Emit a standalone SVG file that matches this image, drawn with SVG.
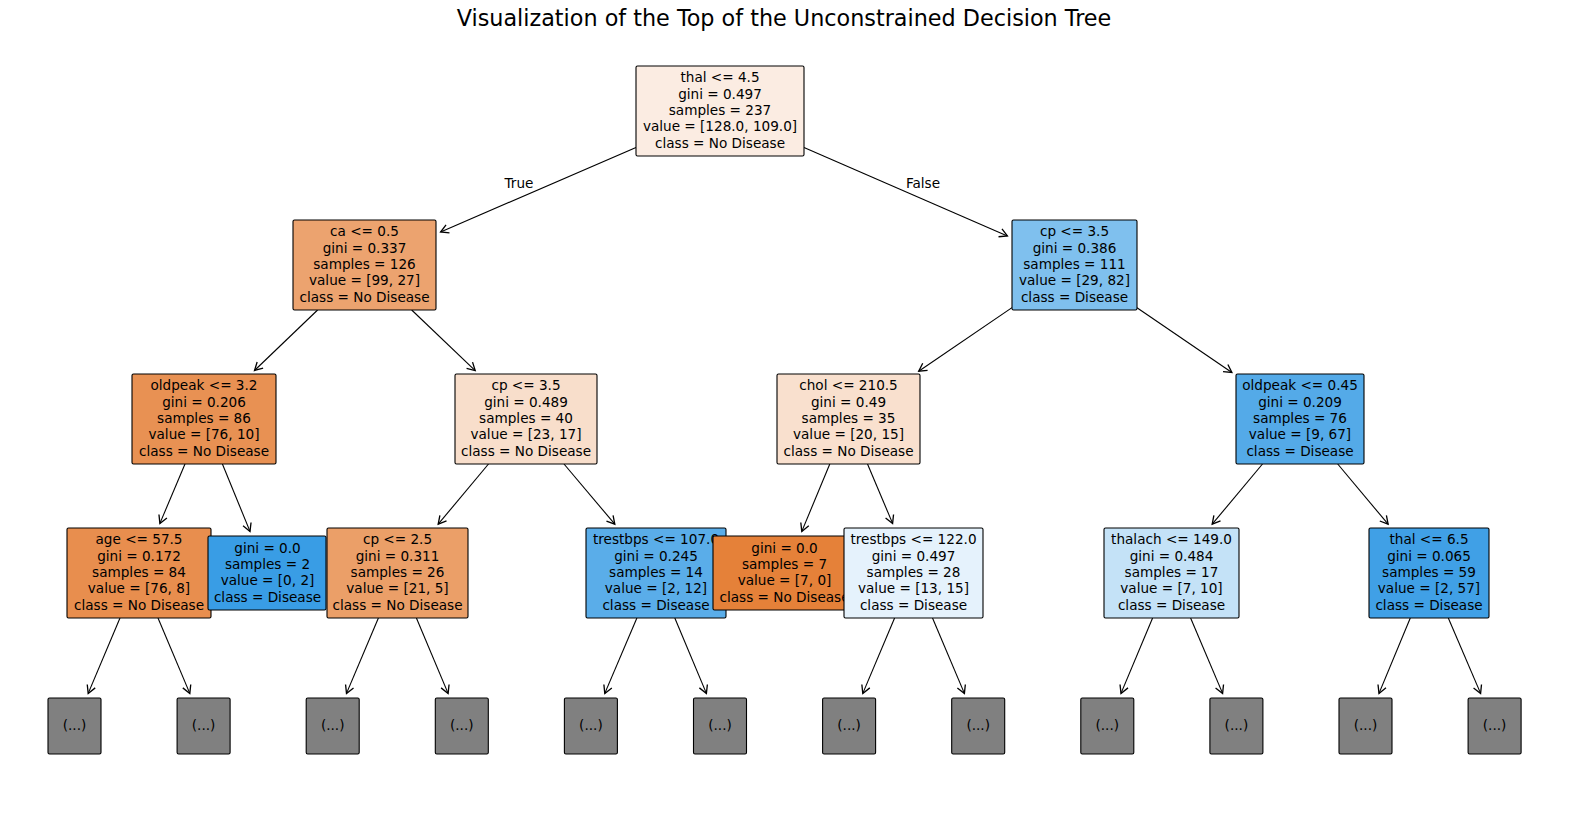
<svg xmlns="http://www.w3.org/2000/svg" width="1570" height="814" viewBox="0 0 1570 814">
<style>
.t{font-family:"DejaVu Sans","Liberation Sans",sans-serif;font-size:13.6px;text-anchor:middle;fill:#000}
.ttl{font-family:"DejaVu Sans","Liberation Sans",sans-serif;font-size:22.3px;text-anchor:middle;fill:#000}
.b{stroke:#000;stroke-width:1.1}
.e{stroke:#000;stroke-width:1.1;fill:none;marker-end:url(#ah)}
.lf{fill:#808080;stroke:#000;stroke-width:1.1}
</style>
<defs>
<marker id="ah" markerUnits="userSpaceOnUse" markerWidth="12" markerHeight="12" refX="0" refY="0" viewBox="-8 -5 10 10" orient="auto" overflow="visible">
<path d="M-6.5,-3.6 L0,0 L-6.5,3.6" fill="none" stroke="#000" stroke-width="1.1"/>
</marker>
</defs>
<rect width="1570" height="814" fill="#fff"/>
<text class="ttl" x="784" y="26">Visualization of the Top of the Unconstrained Decision Tree</text>
<g id="connectors">
<line class="e" x1="636" y1="147.4" x2="440.6" y2="232"/>
<line class="e" x1="804" y1="147.5" x2="1007.4" y2="235.9"/>
<line class="e" x1="317.6" y1="310" x2="254.5" y2="370.5"/>
<line class="e" x1="411.7" y1="310" x2="475.2" y2="370.6"/>
<line class="e" x1="1012" y1="307.6" x2="918.7" y2="371.2"/>
<line class="e" x1="1137" y1="307.7" x2="1231.9" y2="372.5"/>
<line class="e" x1="185" y1="464" x2="159.9" y2="523.4"/>
<line class="e" x1="222.4" y1="464" x2="250" y2="531.4"/>
<line class="e" x1="488.5" y1="464" x2="438.2" y2="524.2"/>
<line class="e" x1="564" y1="464" x2="614.8" y2="524.2"/>
<line class="e" x1="829.8" y1="464" x2="801.8" y2="531.4"/>
<line class="e" x1="867.5" y1="464" x2="892.6" y2="523.4"/>
<line class="e" x1="1262.5" y1="464" x2="1212.2" y2="524.2"/>
<line class="e" x1="1337.7" y1="464" x2="1388.1" y2="524.2"/>
<line class="e" x1="120" y1="618" x2="88.2" y2="693.4"/>
<line class="e" x1="158" y1="618" x2="189.8" y2="693.4"/>
<line class="e" x1="378.4" y1="618" x2="346.5" y2="693.4"/>
<line class="e" x1="416.4" y1="618" x2="448.1" y2="693.4"/>
<line class="e" x1="636.9" y1="618" x2="604.8" y2="693.4"/>
<line class="e" x1="674.8" y1="618" x2="706.4" y2="693.4"/>
<line class="e" x1="894.6" y1="618" x2="862.8" y2="693.4"/>
<line class="e" x1="932.5" y1="618" x2="964.4" y2="693.4"/>
<line class="e" x1="1152.6" y1="618" x2="1121" y2="693.4"/>
<line class="e" x1="1190.6" y1="618" x2="1222.6" y2="693.4"/>
<line class="e" x1="1410.3" y1="618" x2="1379" y2="693.4"/>
<line class="e" x1="1448.3" y1="618" x2="1480.6" y2="693.4"/>
<text class="t" x="519" y="188">True</text>
<text class="t" x="923" y="188">False</text>
</g>
<g id="n_root">
<rect class="b" x="636" y="66" width="168" height="90" rx="1.5" fill="#fbece2"/>
<text class="t" x="720" y="82.3">thal &lt;= 4.5<tspan x="720" dy="16.35">gini = 0.497</tspan><tspan x="720" dy="16.35">samples = 237</tspan><tspan x="720" dy="16.35">value = [128.0, 109.0]</tspan><tspan x="720" dy="16.35">class = No Disease</tspan></text>
</g>
<g id="n_ca">
<rect class="b" x="293" y="220" width="143" height="90" rx="1.5" fill="#eca36f"/>
<text class="t" x="364.5" y="236.3">ca &lt;= 0.5<tspan x="364.5" dy="16.35">gini = 0.337</tspan><tspan x="364.5" dy="16.35">samples = 126</tspan><tspan x="364.5" dy="16.35">value = [99, 27]</tspan><tspan x="364.5" dy="16.35">class = No Disease</tspan></text>
</g>
<g id="n_oldpeak32">
<rect class="b" x="132" y="374" width="144" height="90" rx="1.5" fill="#e89153"/>
<text class="t" x="204" y="390.3">oldpeak &lt;= 3.2<tspan x="204" dy="16.35">gini = 0.206</tspan><tspan x="204" dy="16.35">samples = 86</tspan><tspan x="204" dy="16.35">value = [76, 10]</tspan><tspan x="204" dy="16.35">class = No Disease</tspan></text>
</g>
<g id="n_age">
<rect class="b" x="67" y="528" width="144" height="90" rx="1.5" fill="#e88e4e"/>
<text class="t" x="139" y="544.3">age &lt;= 57.5<tspan x="139" dy="16.35">gini = 0.172</tspan><tspan x="139" dy="16.35">samples = 84</tspan><tspan x="139" dy="16.35">value = [76, 8]</tspan><tspan x="139" dy="16.35">class = No Disease</tspan></text>
</g>
<g id="leaf0"><rect class="lf" x="48" y="698" width="53" height="56" rx="1.5"/><text class="t" x="74.5" y="730">(...)</text></g>
<g id="leaf1"><rect class="lf" x="177.1" y="698" width="53" height="56" rx="1.5"/><text class="t" x="203.6" y="730">(...)</text></g>
<g id="n_gini2">
<rect class="b" x="208" y="536" width="118" height="74" rx="1.5" fill="#399de5"/>
<text class="t" x="267.5" y="552.5">gini = 0.0<tspan x="267.5" dy="16.35">samples = 2</tspan><tspan x="267.5" dy="16.35">value = [0, 2]</tspan><tspan x="267.5" dy="16.35">class = Disease</tspan></text>
</g>
<g id="n_cp40">
<rect class="b" x="455" y="374" width="142" height="90" rx="1.5" fill="#f8decb"/>
<text class="t" x="526" y="390.3">cp &lt;= 3.5<tspan x="526" dy="16.35">gini = 0.489</tspan><tspan x="526" dy="16.35">samples = 40</tspan><tspan x="526" dy="16.35">value = [23, 17]</tspan><tspan x="526" dy="16.35">class = No Disease</tspan></text>
</g>
<g id="n_cp25">
<rect class="b" x="327" y="528" width="141" height="90" rx="1.5" fill="#eb9f68"/>
<text class="t" x="397.5" y="544.3">cp &lt;= 2.5<tspan x="397.5" dy="16.35">gini = 0.311</tspan><tspan x="397.5" dy="16.35">samples = 26</tspan><tspan x="397.5" dy="16.35">value = [21, 5]</tspan><tspan x="397.5" dy="16.35">class = No Disease</tspan></text>
</g>
<g id="leaf2"><rect class="lf" x="306.2" y="698" width="53" height="56" rx="1.5"/><text class="t" x="332.7" y="730">(...)</text></g>
<g id="leaf3"><rect class="lf" x="435.3" y="698" width="53" height="56" rx="1.5"/><text class="t" x="461.8" y="730">(...)</text></g>
<g id="n_trestbps107">
<rect class="b" x="586" y="528" width="140" height="90" rx="1.5" fill="#5aade9"/>
<text class="t" x="656" y="544.3">trestbps &lt;= 107.0<tspan x="656" dy="16.35">gini = 0.245</tspan><tspan x="656" dy="16.35">samples = 14</tspan><tspan x="656" dy="16.35">value = [2, 12]</tspan><tspan x="656" dy="16.35">class = Disease</tspan></text>
</g>
<g id="leaf4"><rect class="lf" x="564.4" y="698" width="53" height="56" rx="1.5"/><text class="t" x="590.9" y="730">(...)</text></g>
<g id="leaf5"><rect class="lf" x="693.5" y="698" width="53" height="56" rx="1.5"/><text class="t" x="720" y="730">(...)</text></g>
<g id="n_cp_right">
<rect class="b" x="1012" y="220" width="125" height="90" rx="1.5" fill="#7fc0ee"/>
<text class="t" x="1074.5" y="236.3">cp &lt;= 3.5<tspan x="1074.5" dy="16.35">gini = 0.386</tspan><tspan x="1074.5" dy="16.35">samples = 111</tspan><tspan x="1074.5" dy="16.35">value = [29, 82]</tspan><tspan x="1074.5" dy="16.35">class = Disease</tspan></text>
</g>
<g id="n_chol">
<rect class="b" x="777" y="374" width="143" height="90" rx="1.5" fill="#f9e0ce"/>
<text class="t" x="848.5" y="390.3">chol &lt;= 210.5<tspan x="848.5" dy="16.35">gini = 0.49</tspan><tspan x="848.5" dy="16.35">samples = 35</tspan><tspan x="848.5" dy="16.35">value = [20, 15]</tspan><tspan x="848.5" dy="16.35">class = No Disease</tspan></text>
</g>
<g id="n_gini7">
<rect class="b" x="713" y="536" width="143" height="74" rx="1.5" fill="#e58139"/>
<text class="t" x="784.5" y="552.5">gini = 0.0<tspan x="784.5" dy="16.35">samples = 7</tspan><tspan x="784.5" dy="16.35">value = [7, 0]</tspan><tspan x="784.5" dy="16.35">class = No Disease</tspan></text>
</g>
<g id="n_trestbps122">
<rect class="b" x="844" y="528" width="139" height="90" rx="1.5" fill="#e5f2fc"/>
<text class="t" x="913.5" y="544.3">trestbps &lt;= 122.0<tspan x="913.5" dy="16.35">gini = 0.497</tspan><tspan x="913.5" dy="16.35">samples = 28</tspan><tspan x="913.5" dy="16.35">value = [13, 15]</tspan><tspan x="913.5" dy="16.35">class = Disease</tspan></text>
</g>
<g id="leaf6"><rect class="lf" x="822.6" y="698" width="53" height="56" rx="1.5"/><text class="t" x="849.1" y="730">(...)</text></g>
<g id="leaf7"><rect class="lf" x="951.7" y="698" width="53" height="56" rx="1.5"/><text class="t" x="978.2" y="730">(...)</text></g>
<g id="n_oldpeak045">
<rect class="b" x="1236" y="374" width="128" height="90" rx="1.5" fill="#54aae8"/>
<text class="t" x="1300" y="390.3">oldpeak &lt;= 0.45<tspan x="1300" dy="16.35">gini = 0.209</tspan><tspan x="1300" dy="16.35">samples = 76</tspan><tspan x="1300" dy="16.35">value = [9, 67]</tspan><tspan x="1300" dy="16.35">class = Disease</tspan></text>
</g>
<g id="n_thalach">
<rect class="b" x="1104" y="528" width="135" height="90" rx="1.5" fill="#c4e2f7"/>
<text class="t" x="1171.5" y="544.3">thalach &lt;= 149.0<tspan x="1171.5" dy="16.35">gini = 0.484</tspan><tspan x="1171.5" dy="16.35">samples = 17</tspan><tspan x="1171.5" dy="16.35">value = [7, 10]</tspan><tspan x="1171.5" dy="16.35">class = Disease</tspan></text>
</g>
<g id="leaf8"><rect class="lf" x="1080.8" y="698" width="53" height="56" rx="1.5"/><text class="t" x="1107.3" y="730">(...)</text></g>
<g id="leaf9"><rect class="lf" x="1209.9" y="698" width="53" height="56" rx="1.5"/><text class="t" x="1236.4" y="730">(...)</text></g>
<g id="n_thal65">
<rect class="b" x="1369" y="528" width="120" height="90" rx="1.5" fill="#40a0e6"/>
<text class="t" x="1429" y="544.3">thal &lt;= 6.5<tspan x="1429" dy="16.35">gini = 0.065</tspan><tspan x="1429" dy="16.35">samples = 59</tspan><tspan x="1429" dy="16.35">value = [2, 57]</tspan><tspan x="1429" dy="16.35">class = Disease</tspan></text>
</g>
<g id="leaf10"><rect class="lf" x="1339" y="698" width="53" height="56" rx="1.5"/><text class="t" x="1365.5" y="730">(...)</text></g>
<g id="leaf11"><rect class="lf" x="1468.1" y="698" width="53" height="56" rx="1.5"/><text class="t" x="1494.6" y="730">(...)</text></g>
</svg>
